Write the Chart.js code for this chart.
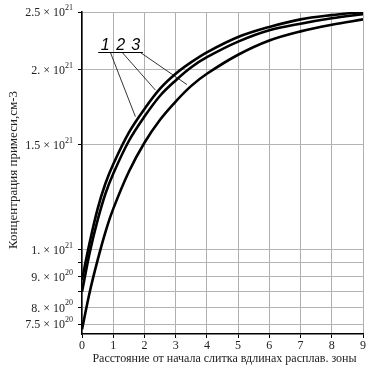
<!DOCTYPE html>
<html>
<head>
<meta charset="utf-8">
<script src="https://cdn.jsdelivr.net/npm/chart.js@4.4.1/dist/chart.umd.min.js"></script>
<style>
  html, body { margin: 0; padding: 0; background: #fff; }
  #wrap { width: 371px; height: 371px; }
</style>
</head>
<body>
<div id="wrap"><canvas id="myChart" width="371" height="371"></canvas></div>
<script>
// distance from ingot start, in molten zone lengths
const xValues = [0, 0.25, 0.5, 0.75, 1, 1.5, 2, 2.5, 3, 3.5, 4, 5, 6, 7, 8, 9]
// impurity concentration, cm^-3
const curve1 = [0.89e21, 1.03e21, 1.17e21, 1.29e21, 1.39e21, 1.57e21, 1.72e21, 1.86e21, 1.97e21, 2.06e21, 2.14e21, 2.27e21, 2.36e21, 2.43e21, 2.47e21, 2.50e21]
const curve2 = [0.85e21, 0.99e21, 1.12e21, 1.24e21, 1.34e21, 1.52e21, 1.67e21, 1.81e21, 1.92e21, 2.02e21, 2.10e21, 2.23e21, 2.33e21, 2.39e21, 2.44e21, 2.48e21]
const curve3 = [0.735e21, 0.85e21, 0.96e21, 1.07e21, 1.17e21, 1.35e21, 1.51e21, 1.65e21, 1.77e21, 1.88e21, 1.97e21, 2.12e21, 2.24e21, 2.32e21, 2.38e21, 2.43e21]

const xTicks = [0, 1, 2, 3, 4, 5, 6, 7, 8, 9]
const yGrid = [7.5e20, 8e20, 8.5e20, 9e20, 9.5e20, 1e21, 1.5e21, 2e21, 2.5e21]
const yLabelVals = [7.5e20, 8e20, 9e20, 1e21, 1.5e21, 2e21, 2.5e21]
const yLabelMant = ['7.5 \u00d7 10', '8. \u00d7 10', '9. \u00d7 10', '1. \u00d7 10', '1.5 \u00d7 10', '2. \u00d7 10', '2.5 \u00d7 10']
const yLabelExp = ['20', '20', '20', '21', '21', '21', '21']

// curve numbers and their leader lines (data coords)
const markNames = ['1', '2', '3']
const markX = [0.6, 1.1, 1.58]
const leaderStartX = [0.91, 1.29, 1.87]
const leaderEndX = [1.71, 2.35, 3.36]
const leaderEndY = [1.67e21, 1.85e21, 1.89e21]

const serif = '"Liberation Serif", "Times New Roman", serif'

const decor = {
    id: 'decor',
    afterDraw(chart) {
        const ctx = chart.ctx
        const x = chart.scales.x
        const y = chart.scales.y
        ctx.save()
        // y tick labels with superscript exponents
        ctx.fillStyle = '#222'
        ctx.textBaseline = 'middle'
        for (let i = 0; i < yLabelVals.length; i++) {
            let py = y.getPixelForValue(yLabelVals[i])
            let right = x.left - 9
            ctx.font = '8px ' + serif
            ctx.textAlign = 'right'
            ctx.fillText(yLabelExp[i], right, py - 4)
            let w = ctx.measureText(yLabelExp[i]).width
            ctx.font = '12px ' + serif
            ctx.fillText(yLabelMant[i], right - w, py + 1)
        }
        // axis titles
        ctx.font = '12px ' + serif
        ctx.textAlign = 'center'
        ctx.textBaseline = 'alphabetic'
        ctx.fillText('Расстояние от начала слитка вдлинах расплав. зоны', (x.left + x.right) / 2 + 2, 362)
        ctx.save()
        ctx.translate(17, 170)
        ctx.rotate(-Math.PI / 2)
        ctx.font = '13px ' + serif
        ctx.fillText('Концентрация примеси,см-3', 0, 0)
        ctx.restore()
        // curve numbers
        let base = 50
        ctx.font = 'italic 16px "Liberation Sans", Arial, sans-serif'
        ctx.textAlign = 'left'
        ctx.fillStyle = '#000'
        for (let i = 0; i < markNames.length; i++) {
            ctx.fillText(markNames[i], x.getPixelForValue(markX[i]), base)
        }
        ctx.strokeStyle = '#000'
        ctx.lineWidth = 1
        ctx.beginPath()
        ctx.moveTo(x.getPixelForValue(0.52), base + 2.5)
        ctx.lineTo(x.getPixelForValue(1.95), base + 2.5)
        ctx.stroke()
        ctx.lineWidth = 0.8
        for (let i = 0; i < markNames.length; i++) {
            ctx.beginPath()
            ctx.moveTo(x.getPixelForValue(leaderStartX[i]), base + 2.5)
            ctx.lineTo(x.getPixelForValue(leaderEndX[i]), y.getPixelForValue(leaderEndY[i]))
            ctx.stroke()
        }
        ctx.restore()
    }
}

function series(values) {
    return {
        data: xValues.map((v, i) => ({x: v, y: values[i]})),
        borderColor: '#000',
        borderWidth: 2.6,
        pointRadius: 0,
        tension: 0.35,
        fill: false
    }
}

new Chart('myChart', {
    type: 'line',
    data: {
        datasets: [series(curve1), series(curve2), series(curve3)]
    },
    plugins: [decor],
    options: {
        responsive: false,
        animation: false,
        layout: { padding: { top: 12, right: 8, left: 0, bottom: 0 } },
        plugins: { legend: { display: false }, tooltip: { enabled: false } },
        scales: {
            x: {
                type: 'linear',
                min: 0,
                max: 9,
                afterBuildTicks: (s) => { s.ticks = xTicks.map(v => ({value: v})) },
                afterFit: (s) => { s.height = 37 },
                grid: { color: '#b0b0b0', tickColor: '#000', tickLength: 4, lineWidth: 1 },
                border: { color: '#000', width: 1.5 },
                ticks: {
                    color: '#222',
                    padding: 1,
                    maxRotation: 0,
                    font: { family: serif, size: 12 },
                    callback: (v) => String(v)
                }
            },
            y: {
                type: 'logarithmic',
                min: 7.22e20,
                max: 2.5e21,
                afterBuildTicks: (s) => { s.ticks = yGrid.map(v => ({value: v})) },
                afterFit: (s) => { s.width = 82 },
                grid: { color: '#b4b4b4', tickColor: '#000', tickLength: 4, lineWidth: 1 },
                border: { color: '#000', width: 1.5 },
                ticks: { callback: () => '' }
            }
        }
    }
})
</script>
</body>
</html>
